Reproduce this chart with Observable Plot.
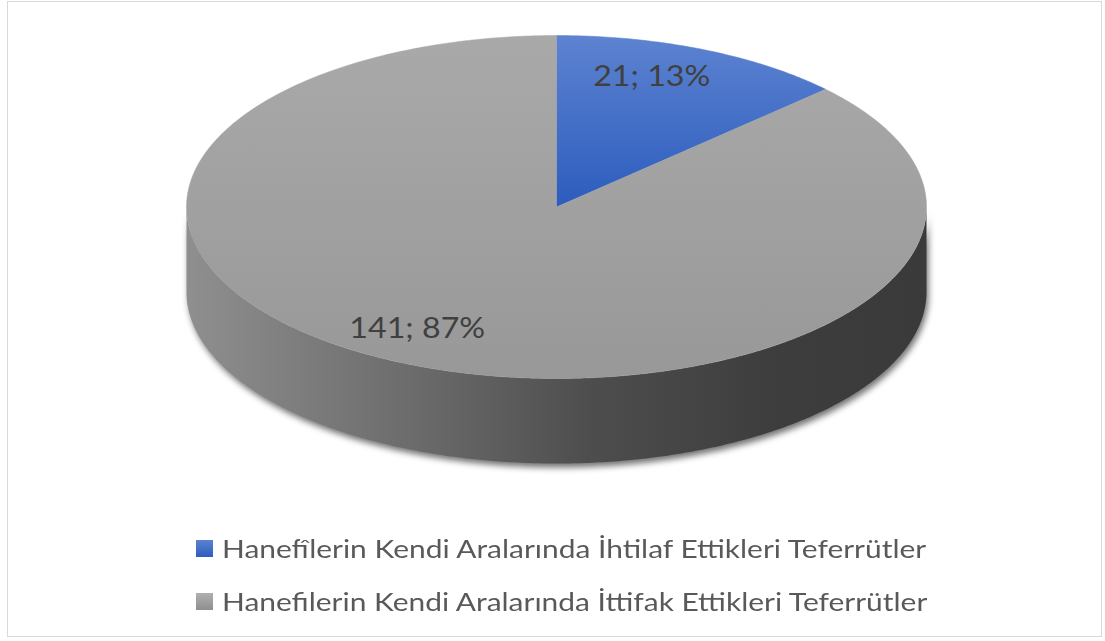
<!DOCTYPE html>
<html>
<head>
<meta charset="utf-8">
<script src="https://cdn.jsdelivr.net/npm/d3@7"></script>
<script src="https://cdn.jsdelivr.net/npm/@observablehq/plot@0.6"></script>
<style>
  html, body { margin: 0; padding: 0; background: #fff; }
  #frame { position: relative; width: 1105px; height: 641px; overflow: hidden; }
  #border { position: absolute; left: 7px; top: 1px; width: 1095px; height: 636px; border: 1.5px solid #d9d9d9; box-sizing: border-box; pointer-events: none; }
  #chart { position: absolute; left: 0; top: 0; }
  .legend-row { position: absolute; left: 196px; height: 30px; display: flex; align-items: center;
    font-family: Lato, "Open Sans", sans-serif; font-size: 25px; color: #595959; white-space: nowrap; }
  .swatch { width: 17px; height: 17px; margin-right: 9px; flex: none; }
  .legend-text { display: inline-block; transform-origin: 0 50%; }
</style>
</head>
<body>
<div id="frame">
  <div id="chart"></div>
  <div id="legend"></div>
  <div id="border"></div>
</div>
<script>
// ---- data ----
const categories = [
  "Hanefîlerin Kendi Aralarında İhtilaf Ettikleri Teferrütler",
  "Hanefilerin Kendi Aralarında İttifak Ettikleri Teferrütler"
];
const values = [21, 141];
const fills = ["url(#gBlue)", "url(#gGrayTop)"];
const swatchFills = ["linear-gradient(#5b82d0, #2d5dbd)", "linear-gradient(#b0b0b0, #8f8f8f)"];

// ---- layout (pixel geometry of the tilted pie) ----
const W = 1105, H = 510;
const CX = 556, CY = 206.5, RX = 370, RY = 171.5, DEPTH = 85;
const px = a => CX + RX * Math.sin(a);
const py = a => CY - RY * Math.cos(a);

const total = d3.sum(values);
const arcs = d3.pie().sort(null).value(d => d)(values);

// top faces
const topPts = [];
arcs.forEach((a, i) => {
  const n = Math.max(4, Math.ceil((a.endAngle - a.startAngle) / 0.01));
  topPts.push({ key: i, x: CX, y: CY });
  for (let k = 0; k <= n; k++) {
    const t = a.startAngle + (a.endAngle - a.startAngle) * k / n;
    topPts.push({ key: i, x: px(t), y: py(t) });
  }
  topPts.push({ key: i, x: CX, y: CY });
});

// visible front side (angles between PI/2 and 3PI/2)
const sidePts = [];
arcs.forEach((a, i) => {
  const s = Math.max(a.startAngle, Math.PI / 2), e = Math.min(a.endAngle, 3 * Math.PI / 2);
  if (e <= s) return;
  const n = Math.ceil((e - s) / 0.01);
  const top = [], bot = [];
  for (let k = 0; k <= n; k++) {
    const t = s + (e - s) * k / n;
    top.push({ key: i, x: px(t), y: py(t) });
    bot.push({ key: i, x: px(t), y: py(t) + DEPTH });
  }
  sidePts.push(...top, ...bot.reverse(), top[0]);
});
const shadowPts = sidePts.map(d => ({ ...d, x: d.x + 2, y: d.y + 4 }));

// labels
const labels = arcs.map((a, i) => {
  const m = (a.startAngle + a.endAngle) / 2;
  return {
    x: CX + 0.8 * RX * Math.sin(m),
    y: CY - 0.8 * RY * Math.cos(m),
    text: `${values[i]}; ${Math.round(values[i] / total * 100)}%`
  };
});

const chart = Plot.plot({
  width: W, height: H, margin: 0,
  x: { domain: [0, W], range: [0, W] },
  y: { domain: [0, H], range: [0, H] },
  axis: null,
  marks: [
    Plot.line(shadowPts, { x: "x", y: "y", z: "key", fill: "#000", fillOpacity: 0.55, stroke: "none" }),
    Plot.line(sidePts, { x: "x", y: "y", z: "key", fill: "url(#gSide)", stroke: "none" }),
    ...arcs.map((a, i) => Plot.line(topPts.filter(d => d.key === i),
      { x: "x", y: "y", fill: fills[i], stroke: fills[i], strokeWidth: 0.5 })),
    Plot.text(labels, { x: "x", y: "y", text: "text", fontSize: 29, fill: "#404040",
      dx: -22, dy: -4.5, fontFamily: "Lato, 'Open Sans', sans-serif" })
  ]
});

const ns = "http://www.w3.org/2000/svg";
const defs = document.createElementNS(ns, "defs");
defs.innerHTML = `
  <linearGradient id="gBlue" x1="0" y1="0" x2="0" y2="1">
    <stop offset="0" stop-color="#5d83d1"/><stop offset="1" stop-color="#2c5cbd"/>
  </linearGradient>
  <linearGradient id="gGrayTop" gradientUnits="userSpaceOnUse" x1="0" y1="35" x2="0" y2="380">
    <stop offset="0" stop-color="#a9a9a9"/><stop offset="1" stop-color="#989898"/>
  </linearGradient>
  <linearGradient id="gSide" gradientUnits="userSpaceOnUse" x1="186" y1="0" x2="926" y2="0">
    <stop offset="0" stop-color="#8f8f8f"/><stop offset="0.3" stop-color="#6c6c6c"/>
    <stop offset="0.55" stop-color="#4d4d4d"/><stop offset="0.8" stop-color="#3d3d3d"/>
    <stop offset="1" stop-color="#3a3a3a"/>
  </linearGradient>
  <filter id="blur" x="-10%" y="-20%" width="120%" height="140%"><feGaussianBlur stdDeviation="3"/></filter>`;
chart.insertBefore(defs, chart.firstChild);
const lineGroups = chart.querySelectorAll('g[aria-label="line"]');
lineGroups[0].setAttribute("filter", "url(#blur)");
document.getElementById("chart").appendChild(chart);

// widen pie labels to match the reference's wide lettering
chart.querySelectorAll('g[aria-label="text"] text').forEach(t => {
  const w = t.getComputedTextLength();
  t.setAttribute("textLength", (w * 1.11).toFixed(1));
  t.setAttribute("lengthAdjust", "spacingAndGlyphs");
});

// legend
const legend = document.getElementById("legend");
const rowTops = [533, 586];
const texts = [];
categories.forEach((c, i) => {
  const row = document.createElement("div");
  row.className = "legend-row";
  row.style.top = rowTops[i] + "px";
  const sw = document.createElement("span");
  sw.className = "swatch";
  sw.style.background = swatchFills[i];
  const tx = document.createElement("span");
  tx.className = "legend-text";
  tx.textContent = c;
  row.appendChild(sw); row.appendChild(tx);
  legend.appendChild(row);
  texts.push(tx);
});
const legendTextWidth = 704;
const sx = legendTextWidth / texts[0].getBoundingClientRect().width;
texts.forEach(t => t.style.transform = `scaleX(${sx.toFixed(3)})`);
</script>
</body>
</html>
